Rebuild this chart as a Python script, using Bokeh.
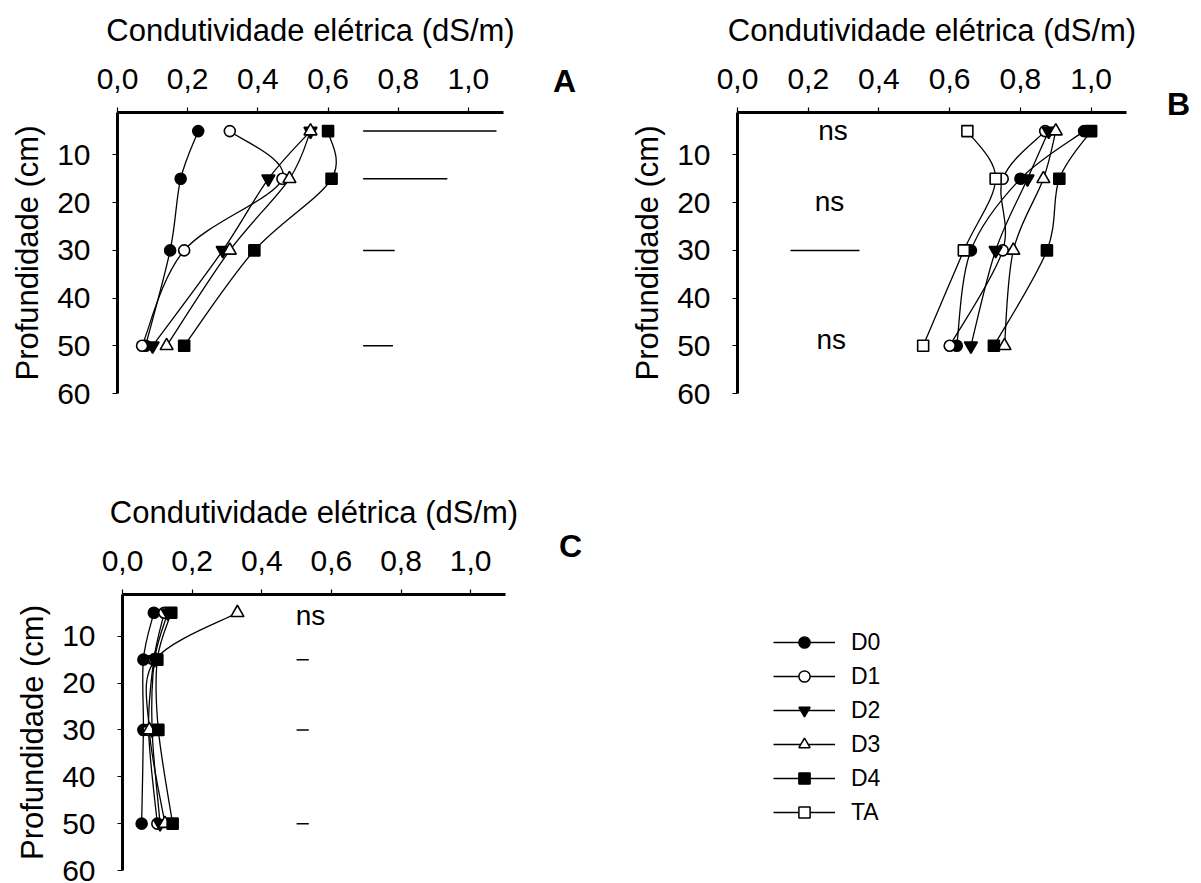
from bokeh.plotting import figure
from bokeh.models import Range1d, Legend, LegendItem, FixedTicker, CustomJSTickFormatter
from bokeh.layouts import column, row
from bokeh.core.properties import value
from bokeh.embed import file_html
from bokeh.resources import INLINE

FONT = "Liberation Sans"

# ---------------- data ----------------
depths = [5, 15, 30, 50]
series_names = ["D0", "D1", "D2", "D3", "D4", "TA"]

# Panel A
a_d0 = [0.23, 0.18, 0.15, 0.08]
a_d1 = [0.32, 0.47, 0.19, 0.07]
a_d2 = [0.55, 0.43, 0.30, 0.10]
a_d3 = [0.55, 0.49, 0.32, 0.14]
a_d4 = [0.60, 0.61, 0.39, 0.19]
a_lsd_start = [0.70, 0.70, 0.70, 0.70]
a_lsd_len = [0.38, 0.24, 0.09, 0.085]

# Panel B
b_d0 = [0.98, 0.80, 0.66, 0.62]
b_d1 = [0.87, 0.75, 0.75, 0.60]
b_d2 = [0.88, 0.82, 0.73, 0.66]
b_d3 = [0.90, 0.865, 0.78, 0.755]
b_d4 = [1.00, 0.91, 0.875, 0.725]
b_ta = [0.65, 0.73, 0.64, 0.525]
b_ns_x = [0.27, 0.26, 0.265]
b_ns_y = [4.8, 19.8, 48.7]
b_lsd_depth = [30]
b_lsd_start = [0.15]
b_lsd_len = [0.195]

# Panel C
c_d0 = [0.09, 0.06, 0.06, 0.055]
c_d1 = [0.12, 0.09, 0.075, 0.10]
c_d2 = [0.13, 0.092, 0.085, 0.108]
c_d3 = [0.33, 0.094, 0.077, 0.122]
c_d4 = [0.14, 0.10, 0.103, 0.144]
c_ns_x = [0.54]
c_ns_y = [5.5]
c_lsd_depth = [15, 30, 50]
c_lsd_start = [0.50, 0.50, 0.50]
c_lsd_len = [0.035, 0.035, 0.035]

x_ticks = [0.0, 0.2, 0.4, 0.6, 0.8, 1.0]
y_ticks = [10, 20, 30, 40, 50, 60]
x_title = "Condutividade elétrica (dS/m)"
y_title = "Profundidade (cm)"
panel_letters = ["A", "B", "C"]

styles = {
    "D0": dict(marker="circle", fill="black", size=11),
    "D1": dict(marker="circle", fill="white", size=11),
    "D2": dict(marker="inverted_triangle", fill="black", size=13),
    "D3": dict(marker="triangle", fill="white", size=13),
    "D4": dict(marker="square", fill="black", size=11),
    "TA": dict(marker="square", fill="white", size=11),
}


def smooth(xs, ys):
    n = len(xs)
    out = dict(x0=[], y0=[], x1=[], y1=[], cx0=[], cy0=[], cx1=[], cy1=[])
    for i in range(n - 1):
        i0 = max(i - 1, 0)
        i3 = min(i + 2, n - 1)
        out["x0"].append(xs[i]); out["y0"].append(ys[i])
        out["x1"].append(xs[i + 1]); out["y1"].append(ys[i + 1])
        out["cx0"].append(xs[i] + (xs[i + 1] - xs[i0]) / 6.0)
        out["cy0"].append(ys[i] + (ys[i + 1] - ys[i0]) / 6.0)
        out["cx1"].append(xs[i + 1] - (xs[i3] - xs[i]) / 6.0)
        out["cy1"].append(ys[i + 1] - (ys[i3] - ys[i]) / 6.0)
    return out


def panel(width, height, bl, br, bt, bb, series):
    p = figure(width=width, height=height, output_backend="svg", toolbar_location=None,
               x_axis_location="above", x_range=Range1d(0, 1.1), y_range=Range1d(60, 1.1),
               min_border_left=bl, min_border_right=br, min_border_top=bt, min_border_bottom=bb,
               background_fill_color="white", border_fill_color="white")
    p.outline_line_color = None
    p.grid.visible = False
    for ax in (p.xaxis[0], p.yaxis[0]):
        ax.axis_line_width = 3
        ax.axis_line_color = "black"
        ax.major_tick_in = 0
        ax.major_tick_out = 5
        ax.major_tick_line_width = 1.2
        ax.minor_tick_line_color = None
        ax.major_label_text_font = FONT
        ax.major_label_text_font_size = "30px"
        ax.major_label_text_color = "black"
        ax.axis_label_text_font = FONT
        ax.axis_label_text_font_size = "31px"
        ax.axis_label_text_font_style = "normal"
        ax.axis_label_text_color = "black"
    p.xaxis.ticker = FixedTicker(ticks=x_ticks)
    p.xaxis.formatter = CustomJSTickFormatter(code="return tick.toFixed(1).replace('.', ',');")
    p.xaxis.axis_label = x_title
    p.xaxis.major_label_standoff = 19
    p.xaxis.axis_label_standoff = 18
    p.yaxis.ticker = FixedTicker(ticks=y_ticks)
    p.yaxis.axis_label = y_title
    p.yaxis.major_label_standoff = 22
    p.yaxis.axis_label_standoff = 9

    for name, xs in series:
        st = styles[name]
        p.bezier(source=smooth(xs, depths), x0="x0", y0="y0", x1="x1", y1="y1",
                 cx0="cx0", cy0="cy0", cx1="cx1", cy1="cy1", line_color="black", line_width=1.3)
        p.scatter(xs, depths, marker=st["marker"], size=st["size"], fill_color=st["fill"],
                  line_color="black", line_width=1.6)
    return p


def letter_fig(width, height, letter, cx, cy):
    f = figure(width=width, height=height, output_backend="svg", toolbar_location=None,
               x_range=Range1d(0, width), y_range=Range1d(height, 0),
               min_border_left=0, min_border_right=0, min_border_top=0, min_border_bottom=0,
               x_axis_type=None, y_axis_type=None)
    f.frame_align = False
    f.outline_line_color = None
    f.grid.visible = False
    f.text(x=[cx], y=[cy], text=[letter], text_font=value(FONT), text_font_size="32px",
           text_font_style="bold", text_align="center", text_baseline="middle",
           text_color="black")
    return f


pA = panel(520, 470, 117, 17, 112, 77,
           [("D0", a_d0), ("D1", a_d1), ("D2", a_d2), ("D3", a_d3), ("D4", a_d4)])
pA.segment(x0=a_lsd_start, y0=depths,
           x1=[s + l for s, l in zip(a_lsd_start, a_lsd_len)], y1=depths,
           line_color="black", line_width=1.5)
fA = letter_fig(80, 470, panel_letters[0], 44, 80)

pB = panel(546, 470, 137, 20, 112, 77,
           [("D0", b_d0), ("D1", b_d1), ("D2", b_d2), ("D3", b_d3), ("D4", b_d4), ("TA", b_ta)])
pB.segment(x0=b_lsd_start, y0=b_lsd_depth,
           x1=[s + l for s, l in zip(b_lsd_start, b_lsd_len)], y1=b_lsd_depth,
           line_color="black", line_width=1.5)
pB.text(x=b_ns_x, y=b_ns_y, text=["ns"] * len(b_ns_x), text_font=value(FONT),
        text_font_size="28px", text_align="center", text_baseline="middle", text_color="black")
fB = letter_fig(55, 470, panel_letters[1], 32, 103)

pC = panel(530, 413, 122, 25, 124, 13,
           [("D0", c_d0), ("D1", c_d1), ("D2", c_d2), ("D3", c_d3), ("D4", c_d4)])
pC.segment(x0=c_lsd_start, y0=c_lsd_depth,
           x1=[s + l for s, l in zip(c_lsd_start, c_lsd_len)], y1=c_lsd_depth,
           line_color="black", line_width=1.5)
pC.text(x=c_ns_x, y=c_ns_y, text=["ns"] * len(c_ns_x), text_font=value(FONT),
        text_font_size="28px", text_align="center", text_baseline="middle", text_color="black")
fC = letter_fig(70, 413, panel_letters[2], 40, 75)

# Legend figure
pD = figure(width=601, height=413, output_backend="svg", toolbar_location=None,
            x_range=Range1d(0, 1), y_range=Range1d(0, 1),
            min_border_left=0, min_border_right=0, min_border_top=0, min_border_bottom=0,
            x_axis_type=None, y_axis_type=None)
pD.frame_align = False
pD.outline_line_color = None
pD.grid.visible = False
items = []
for name in series_names:
    st = styles[name]
    rl = pD.line([-10, -9], [-10, -9], line_color="black", line_width=1.3)
    rs = pD.scatter([-10], [-10], marker=st["marker"],
                    size=8 if "triangle" not in st["marker"] else 10,
                    fill_color=st["fill"], line_color="black", line_width=1.5)
    items.append(LegendItem(label=name, renderers=[rl, rs]))
# frame spans the whole legend figure: top of first item at 158 px from the top
legend = Legend(items=items, location=(173, 413 - 158 - 198), glyph_width=62, glyph_height=28,
                label_height=28, spacing=6, label_standoff=16, padding=0, margin=0,
                label_text_font=FONT, label_text_font_size="23px", label_text_color="black",
                border_line_color=None, background_fill_alpha=0)
pD.add_layout(legend, "center")

layout = column(row(pA, fA, pB, fB), row(pC, fC, pD))
open("out.html", "w").write(file_html(layout, INLINE))
